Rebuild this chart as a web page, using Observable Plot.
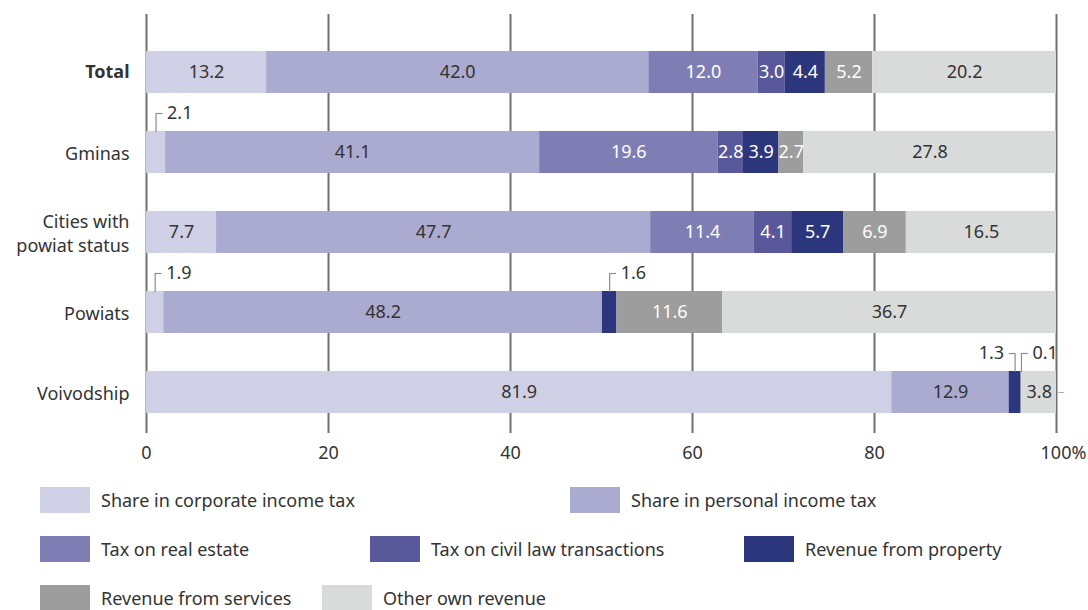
<!DOCTYPE html>
<html>
<head>
<meta charset="utf-8">
<script src="https://cdn.jsdelivr.net/npm/d3@7"></script>
<script src="https://cdn.jsdelivr.net/npm/@observablehq/plot@0.6"></script>
<style>
  html, body { margin: 0; padding: 0; background: #fff; }
  body { width: 1088px; height: 610px; overflow: hidden; font-family: "Noto Sans", "Open Sans", sans-serif; color: #333; }
  #legend { position: relative; width: 1088px; height: 145px; }
  .item { position: absolute; display: flex; align-items: center; font-size: 18px; color: #333; white-space: nowrap; }
  .sw { width: 50px; height: 26px; margin-right: 11px; }
</style>
</head>
<body>
<div id="chart"></div>
<div id="legend"></div>
<script>
// ---- data ----
const categories = ["Total", "Gminas", "Cities with powiat status", "Powiats", "Voivodship"];
const seriesNames = [
  "Share in corporate income tax",
  "Share in personal income tax",
  "Tax on real estate",
  "Tax on civil law transactions",
  "Revenue from property",
  "Revenue from services",
  "Other own revenue"
];
const corporateTax = [13.2, 2.1, 7.7, 1.9, 81.9];
const personalTax  = [42.0, 41.1, 47.7, 48.2, 12.9];
const realEstate   = [12.0, 19.6, 11.4, 0, 0];
const civilLaw     = [3.0, 2.8, 4.1, 0, 0];
const property     = [4.4, 3.9, 5.7, 1.6, 1.3];
const services     = [5.2, 2.7, 6.9, 11.6, 0.1];
const otherOwn     = [20.2, 27.8, 16.5, 36.7, 3.8];
const xTicks = [0, 20, 40, 60, 80, 100];

// ---- styles ----
const colors = ["#cfcfe6", "#abaad0", "#7f7eb4", "#58589a", "#2c367c", "#9c9d9c", "#d9dbda"];
const whiteText = new Set(["Tax on real estate", "Tax on civil law transactions", "Revenue from property", "Revenue from services"]);

// ---- derived table ----
const seriesValues = [corporateTax, personalTax, realEstate, civilLaw, property, services, otherOwn];
const rows = [];
categories.forEach((cat, i) => {
  let cum = 0;
  seriesValues.forEach((vals, j) => {
    const v = vals[i];
    rows.push({cat, series: seriesNames[j], value: v, x1: cum, x2: cum + v, mid: cum + v / 2, idx: j});
    cum += v;
  });
});
const isOutside = d => d && d.value > 0 && d.value < 2.5;
const ann = [];
rows.forEach((d, k) => {
  if (!isOutside(d)) return;
  const next = rows[k + 1] && rows[k + 1].cat === d.cat ? rows[k + 1] : null;
  ann.push({...d, dir: isOutside(next) ? -1 : 1});
});
const tailLeader = rows.filter(d => d.idx === seriesNames.length - 1 && d.value < 5);
const fmt = v => v.toFixed(1);
const inside = rows.filter(d => d.value >= 2.5);

const fs = 18;
const chart = Plot.plot({
  width: 1088,
  height: 465,
  marginLeft: 146,
  marginRight: 32,
  marginTop: 50,
  marginBottom: 52,
  style: {fontFamily: "Noto Sans", fontSize: fs + "px", color: "#333", background: "#fff"},
  x: {domain: [0, 100]},
  y: {domain: categories, paddingInner: 0.475, paddingOuter: 0},
  color: {domain: seriesNames, range: colors},
  marks: [
    Plot.ruleX(xTicks, {stroke: "#707070", strokeWidth: 2, insetTop: -36, insetBottom: -20}),
    Plot.barX(rows, {x1: "x1", x2: "x2", y: "cat", fill: "series"}),
    Plot.text(inside.filter(d => !whiteText.has(d.series)), {x: "mid", y: "cat", text: d => fmt(d.value), fill: "#333", fontSize: fs}),
    Plot.text(inside.filter(d => whiteText.has(d.series)), {x: "mid", y: "cat", text: d => fmt(d.value), fill: "#fff", fontSize: fs}),
    // outside label leaders
    Plot.tickX(ann, {x: "mid", y: "cat", stroke: "#8c8c8c", strokeWidth: 1.2, insetTop: -18, insetBottom: 41}),
    Plot.link(ann, {x1: "mid", x2: d => d.mid + d.dir * 0.7, y1: "cat", y2: "cat", dy: -39, stroke: "#8c8c8c", strokeWidth: 1.2}),
    Plot.text(ann.filter(d => d.dir > 0), {x: "mid", y: "cat", text: d => fmt(d.value), dx: 11, dy: -39, textAnchor: "start", fill: "#333", fontSize: fs}),
    Plot.text(ann.filter(d => d.dir < 0), {x: "mid", y: "cat", text: d => fmt(d.value), dx: -11, dy: -39, textAnchor: "end", fill: "#333", fontSize: fs}),
    Plot.link(tailLeader, {x1: d => d.x2 + 0.2, x2: d => d.x2 + 0.85, y1: "cat", y2: "cat", stroke: "#aaa", strokeWidth: 1}),
    Plot.axisX(xTicks.slice(0, -1), {tickSize: 0, tickPadding: 33, fontSize: fs, label: null}),
    Plot.axisX(xTicks.slice(-1), {tickSize: 0, tickPadding: 33, fontSize: fs, dx: 7, label: null, tickFormat: d => d + "%"}),
    Plot.axisY(["Total"], {tickSize: 0, tickPadding: 17, fontSize: fs, fontWeight: "bold", label: null}),
    Plot.axisY(categories.slice(1), {tickSize: 0, tickPadding: 17, fontSize: fs, lineHeight: 1.3, label: null,
      tickFormat: d => d === "Cities with powiat status" ? "Cities with\npowiat status" : d})
  ]
});
document.getElementById("chart").appendChild(chart);

// ---- legend ----
const legendLayout = [
  [40, 35], [570, 35],
  [40, 84], [370, 84], [744, 84],
  [40, 133], [322, 133]
];
const legend = document.getElementById("legend");
seriesNames.forEach((name, i) => {
  const [left, cy] = legendLayout[i];
  const item = document.createElement("div");
  item.className = "item";
  item.style.left = left + "px";
  item.style.top = (cy - 13) + "px";
  item.style.height = "26px";
  const sw = document.createElement("div");
  sw.className = "sw";
  sw.style.background = colors[i];
  const label = document.createElement("span");
  label.textContent = name;
  item.appendChild(sw);
  item.appendChild(label);
  legend.appendChild(item);
});
</script>
</body>
</html>
